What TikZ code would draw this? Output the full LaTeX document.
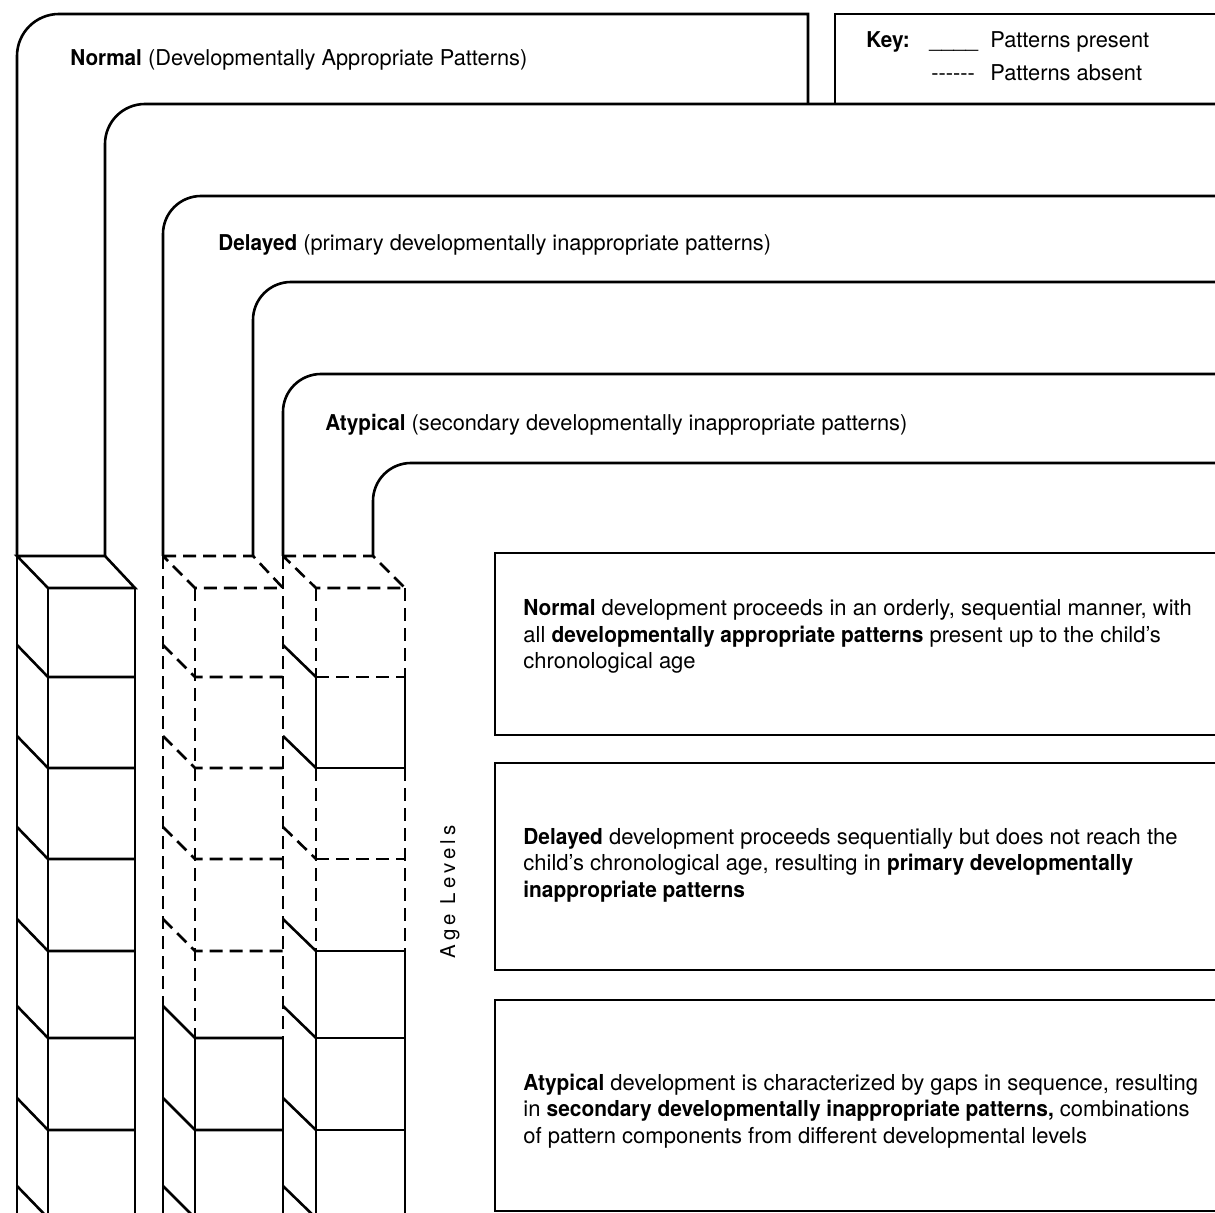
\documentclass[tikz,border=0pt]{standalone}
\usepackage{fontspec}
\setmainfont[BoldFeatures={FakeStretch=0.95}]{TeX Gyre Heros}
\begin{document}
\begin{tikzpicture}[x=0.5pt,y=-0.5pt,
  ln/.style={line width=1.3pt, line join=miter},
  absent/.style={dash pattern=on 6.5pt off 3.5pt},
  txt/.style={anchor=base west, inner sep=0pt, font=\fontsize{10.9}{13}\selectfont},
  btxt/.style={anchor=base west, inner sep=0pt, font=\fontsize{11}{13}\selectfont}]
\useasboundingbox (0,0) rectangle (1215,1213);
% ---- nested curves ----
\draw[ln] (17,556) -- (17,56) arc[start angle=180,end angle=270,radius=42] -- (808,14) -- (808,104);
\draw[ln] (105,556) -- (105,144) arc[start angle=180,end angle=270,radius=40] -- (1230,104);
\draw[ln] (163,556) -- (163,234) arc[start angle=180,end angle=270,radius=38] -- (1230,196);
\draw[ln] (253,556) -- (253,320) arc[start angle=180,end angle=270,radius=38] -- (1230,282);
\draw[ln] (283,556) -- (283,412) arc[start angle=180,end angle=270,radius=38] -- (1230,374);
\draw[ln] (373,556) -- (373,501) arc[start angle=180,end angle=270,radius=38] -- (1230,463);
% ---- key ----
\draw[ln] (835,14) rectangle (1230,104);
\node[txt] (keyk) at (866,48) {\textbf{Key:}};
\node[txt] (keysolid) at (929,48) {\_\_\_\_};
\node[txt] (keypres) at (990,48) {Patterns present};
\node[txt] (keydash) at (931,81) {-{}-{}-{}-{}-{}-};
\node[txt] (keyabs) at (990,81) {Patterns absent};
% ---- labels ----
\node[txt] (lnormal) at (70,66) {\textbf{Normal} (Developmentally Appropriate Patterns)};
\node[txt] (ldelayed) at (218,251) {\textbf{Delayed} (primary developmentally inappropriate patterns)};
\node[txt] (latyp) at (325,431) {\textbf{Atypical} (secondary developmentally inappropriate patterns)};
% ---- column 1 (normal) ----
\draw[ln] (17,556) -- (105,556) -- (135,588) -- (48,588) -- cycle;
\draw[ln] (17,556) -- (17,1240);
\draw[ln] (48,588) -- (48,1240);
\draw[ln] (135,588) -- (135,1240);
\foreach \y in {677,768,859,951,1038,1130,1218}{\draw[ln] (17,\y-32) -- (48,\y) -- (135,\y);}
% ---- column 2 (delayed) ----
\draw[ln,absent] (163,556) -- (253,556) -- (283,588) -- (195,588) -- cycle;
\draw[ln,absent] (163,556) -- (163,1006);
\draw[ln] (163,1006) -- (163,1240);
\draw[ln,absent] (195,588) -- (195,1038);
\draw[ln] (195,1038) -- (195,1240);
\draw[ln,absent] (283,556) -- (283,1038);
\draw[ln] (283,1038) -- (283,1240);
\foreach \y in {677,768,859,951}{\draw[ln,absent] (163,\y-32) -- (195,\y) -- (283,\y);}
\foreach \y in {1038,1130,1218}{\draw[ln] (163,\y-32) -- (195,\y) -- (283,\y);}
% ---- column 3 (atypical) ----
\draw[ln,absent] (283,556) -- (373,556) -- (405,588) -- (316,588) -- cycle;
\foreach \x in {316,405}{
  \draw[ln,absent] (\x,588) -- (\x,677);
  \draw[ln] (\x,677) -- (\x,768);
  \draw[ln,absent] (\x,768) -- (\x,951);
  \draw[ln] (\x,951) -- (\x,1240);
}
\draw[ln,absent] (316,677) -- (405,677);
\draw[ln,absent] (316,859) -- (405,859);
\foreach \y in {768,951,1038,1130,1218}{\draw[ln] (316,\y) -- (405,\y);}
\draw[ln,absent] (283,859-32) -- (316,859);
\foreach \y in {677,768,951,1038,1130,1218}{\draw[ln] (283,\y-32) -- (316,\y);}
% ---- age levels ----
\node[rotate=90, inner sep=0pt, font=\fontsize{10.2}{12}\selectfont\addfontfeature{LetterSpace=20}] (age) at (450,892) {Age Levels};
% ---- text boxes ----
\draw[ln] (495,553) rectangle (1230,735);
\draw[ln] (495,763) rectangle (1230,970);
\draw[ln] (495,1000) rectangle (1230,1211);
\node[btxt] (n1) at (523,616) {\textbf{Normal} development proceeds in an orderly, sequential manner, with};
\node[btxt] (n2) at (523,642) {all \textbf{developmentally appropriate patterns} present up to the child's};
\node[btxt] (n3) at (523,668) {chronological age};
\node[btxt] (d1) at (523,844) {\textbf{Delayed} development proceeds sequentially but does not reach the};
\node[btxt] (d2) at (523,870) {child's chronological age, resulting in \textbf{primary developmentally}};
\node[btxt] (d3) at (523,897) {\textbf{inappropriate patterns}};
\node[btxt] (a1) at (523,1090) {\textbf{Atypical} development is characterized by gaps in sequence, resulting};
\node[btxt] (a2) at (523,1116) {in \textbf{secondary developmentally inappropriate patterns,} combinations};
\node[btxt] (a3) at (523,1143) {of pattern components from different developmental levels};
\end{tikzpicture}
\end{document}
